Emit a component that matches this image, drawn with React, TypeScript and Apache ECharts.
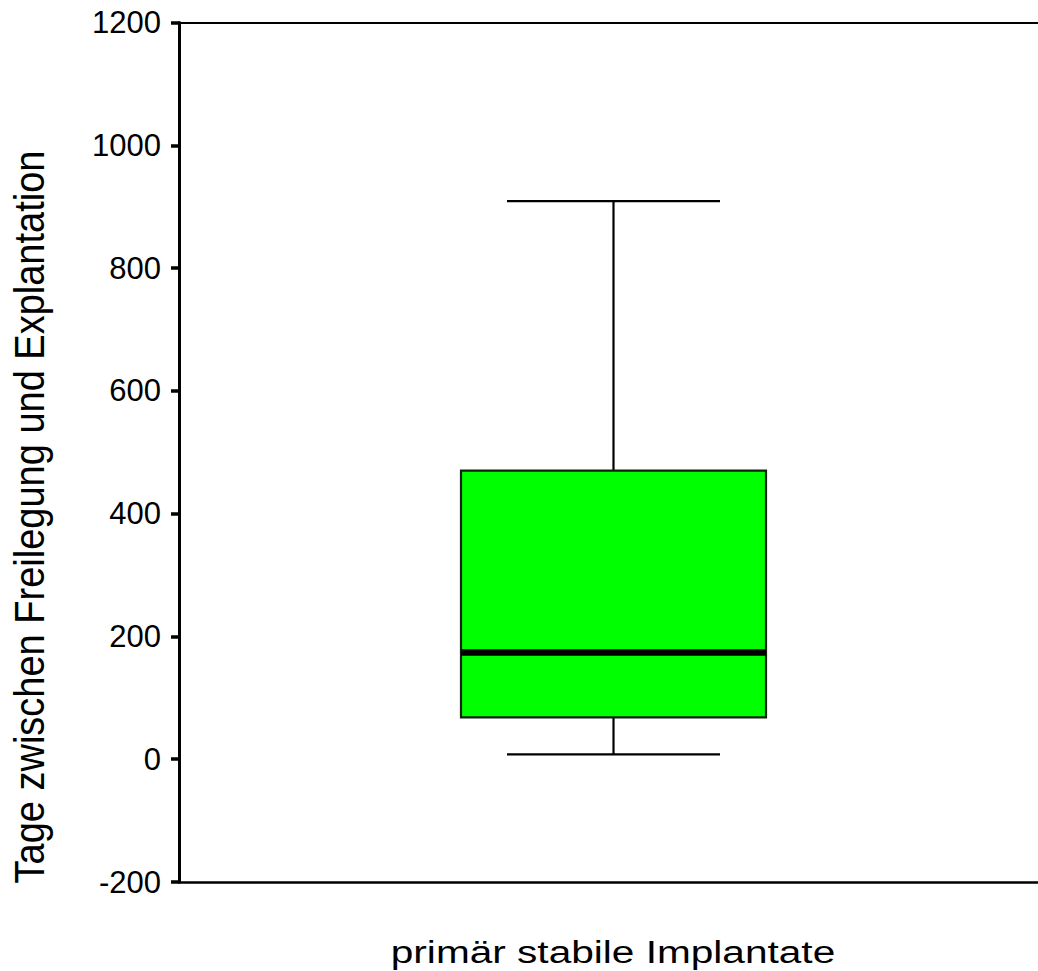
import React, { useEffect, useRef } from "react";
import * as echarts from "echarts";

const categories = ["primär stabile Implantate"];
const whiskerLow = [8];
const q1 = [68];
const median = [174];
const q3 = [470];
const whiskerHigh = [909];
const yTicks = { min: -200, max: 1200, interval: 200 };
const yTitle = "Tage zwischen Freilegung und Explantation";

export default function App() {
  const ref = useRef<HTMLDivElement>(null);
  useEffect(() => {
    if (!ref.current) return;
    const chart = echarts.init(ref.current, null, { renderer: "svg" });
    const data = categories.map((c, i) => [i, whiskerLow[i], q1[i], median[i], q3[i], whiskerHigh[i]]);
    const font = "'Liberation Sans', Arial, Helvetica, sans-serif";
    chart.setOption({
      animation: false,
      backgroundColor: "#ffffff",
      grid: { left: 179, top: 22.5, bottom: 89, right: 0, containLabel: false },
      xAxis: [
        {
          type: "category",
          data: categories,
          position: "bottom",
          axisLine: { onZero: false, lineStyle: { color: "#000", width: 2.5 } },
          axisTick: { show: false },
          splitLine: { show: false },
          axisLabel: { show: false },
        },
        {
          type: "category",
          data: categories,
          position: "top",
          axisLine: { onZero: false, lineStyle: { color: "#000", width: 2 } },
          axisTick: { show: false },
          axisLabel: { show: false },
          splitLine: { show: false },
        },
      ],
      yAxis: {
        type: "value",
        min: yTicks.min,
        max: yTicks.max,
        interval: yTicks.interval,
        axisLine: { show: true, lineStyle: { color: "#000", width: 3 } },
        axisTick: { show: true, inside: false, length: 8, lineStyle: { color: "#000", width: 3.5 } },
        splitLine: { show: false },
        axisLabel: {
          color: "#000",
          fontSize: 31,
          fontFamily: font,
          margin: 18,
          formatter: (v: number) => String(v),
        },
      },
      graphic: [
        {
          type: "text",
          x: 29.5,
          y: 517,
          rotation: Math.PI / 2,
          scaleY: 1.1,
          style: {
            text: yTitle,
            fill: "#000",
            font: `38px ${font}`,
            align: "center",
            verticalAlign: "middle",
          },
        },
        {
          type: "text",
          x: 613,
          y: 952,
          scaleX: 1.31,
          style: {
            text: categories[0],
            fill: "#000",
            font: `31px ${font}`,
            align: "center",
            verticalAlign: "middle",
          },
        },
      ],
      series: [
        {
          type: "custom",
          xAxisIndex: 0,
          encode: { x: 0, y: [1, 2, 3, 4, 5] },
          data,
          renderItem: (params: any, api: any) => {
            const idx = api.value(0);
            const pLow = api.coord([idx, api.value(1)]);
            const pQ1 = api.coord([idx, api.value(2)]);
            const pMed = api.coord([idx, api.value(3)]);
            const pQ3 = api.coord([idx, api.value(4)]);
            const pHigh = api.coord([idx, api.value(5)]);
            const cx = pLow[0];
            const boxHalf = 152.5;
            const capHalf = 106.5;
            const lineStyle = { stroke: "#000", lineWidth: 2.2 };
            return {
              type: "group",
              children: [
                { type: "line", shape: { x1: cx, y1: pHigh[1], x2: cx, y2: pQ3[1] }, style: lineStyle },
                { type: "line", shape: { x1: cx, y1: pQ1[1], x2: cx, y2: pLow[1] }, style: lineStyle },
                { type: "line", shape: { x1: cx - capHalf, y1: pHigh[1], x2: cx + capHalf, y2: pHigh[1] }, style: lineStyle },
                { type: "line", shape: { x1: cx - capHalf, y1: pLow[1], x2: cx + capHalf, y2: pLow[1] }, style: lineStyle },
                {
                  type: "rect",
                  shape: { x: cx - boxHalf, y: pQ3[1], width: boxHalf * 2, height: pQ1[1] - pQ3[1] },
                  style: { fill: "#00ff00", stroke: "#112211", lineWidth: 2.2 },
                },
                {
                  type: "line",
                  shape: { x1: cx - boxHalf, y1: pMed[1], x2: cx + boxHalf, y2: pMed[1] },
                  style: { stroke: "#000", lineWidth: 6.5 },
                },
              ],
            };
          },
        },
      ],
    });
    return () => chart.dispose();
  }, []);
  return (
    <div
      ref={ref}
      style={{ position: "fixed", left: 0, top: 0, width: 1048, height: 971, background: "#fff" }}
    />
  );
}
